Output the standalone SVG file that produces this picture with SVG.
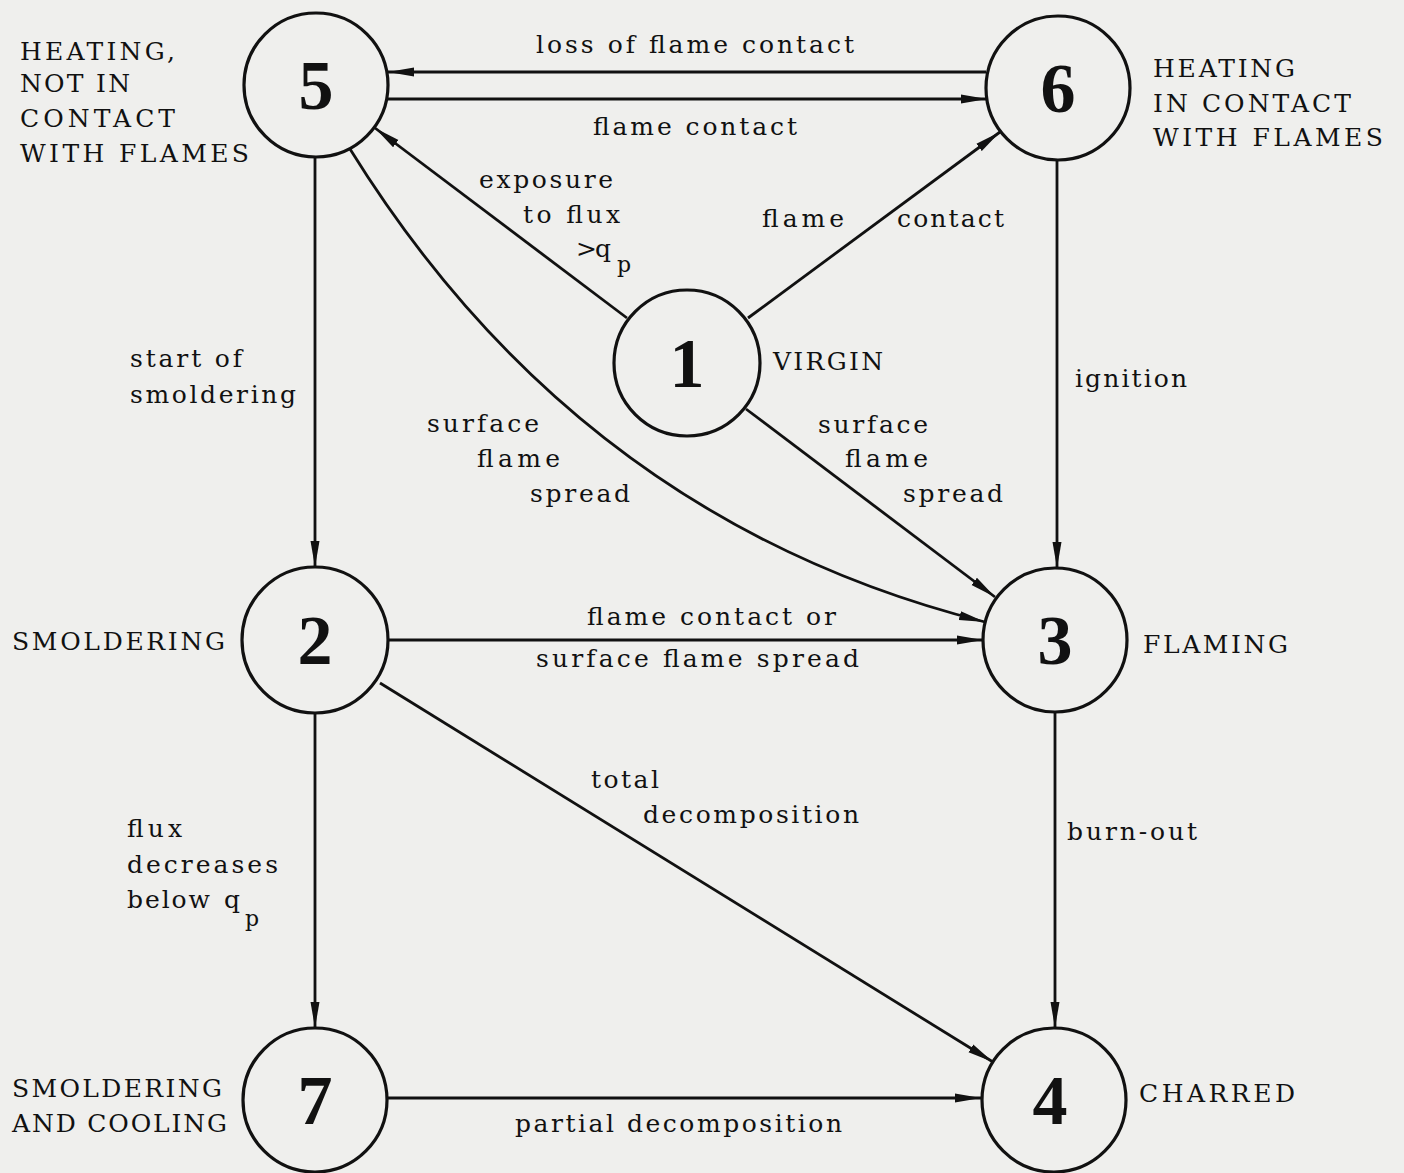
<svg xmlns="http://www.w3.org/2000/svg" width="1404" height="1173" viewBox="0 0 1404 1173">
<style>
.bg{fill:#efefed}
.node{fill:none;stroke:#111;stroke-width:3.2}
.num{font-family:"Liberation Serif","DejaVu Serif",serif;font-weight:bold;font-size:70px;fill:#111;text-anchor:middle}
.cap{font-family:"DejaVu Serif","Liberation Serif",serif;font-size:25px;fill:#111}
.lbl{font-family:"DejaVu Serif","Liberation Serif",serif;font-size:25px;fill:#111}
.sub{font-family:"DejaVu Serif","Liberation Serif",serif;font-size:22px;fill:#111}
.edge{fill:none;stroke:#111;stroke-width:2.8;marker-end:url(#ah)}
</style>
<defs>
<marker id="ah" markerUnits="userSpaceOnUse" markerWidth="28" markerHeight="10" refX="26" refY="5" orient="auto">
<path d="M0,0.5 L26,5 L0,9.5 z" fill="#111"/>
</marker>
</defs>
<rect class="bg" x="0" y="0" width="1404" height="1173"/>

<g id="connectors">
<line class="edge" x1="986" y1="72" x2="388" y2="72"/>
<line class="edge" x1="388" y1="99" x2="987" y2="99"/>
<line class="edge" x1="627" y1="318" x2="375" y2="128"/>
<line class="edge" x1="748" y1="318" x2="1000" y2="132"/>
<path class="edge" d="M350,149 Q580,520 985,622"/>
<line class="edge" x1="746" y1="409" x2="995" y2="597"/>
<line class="edge" x1="1057" y1="160" x2="1057" y2="568"/>
<line class="edge" x1="315" y1="157" x2="315" y2="567"/>
<line class="edge" x1="388" y1="640" x2="983" y2="640"/>
<line class="edge" x1="380" y1="683" x2="993" y2="1062"/>
<line class="edge" x1="1055" y1="712" x2="1055" y2="1028"/>
<line class="edge" x1="315" y1="713" x2="315" y2="1028"/>
<line class="edge" x1="387" y1="1098" x2="981" y2="1098"/>
</g>

<g id="edge-labels">
<text class="lbl" x="536" y="53" textLength="318" lengthAdjust="spacing">loss of flame contact</text>
<text class="lbl" x="593" y="135" textLength="204" lengthAdjust="spacing">flame contact</text>
<text class="lbl" x="479" y="188" textLength="134" lengthAdjust="spacing">exposure</text>
<text class="lbl" x="523" y="223" textLength="97" lengthAdjust="spacing">to flux</text>
<text class="lbl" x="576" y="257" textLength="35" lengthAdjust="spacing">&gt;q</text>
<text class="sub" x="617" y="272">p</text>
<text class="lbl" x="762" y="227" textLength="82" lengthAdjust="spacing">flame</text>
<text class="lbl" x="897" y="227" textLength="107" lengthAdjust="spacing">contact</text>
<text class="lbl" x="130" y="367" textLength="112" lengthAdjust="spacing">start of</text>
<text class="lbl" x="130" y="403" textLength="166" lengthAdjust="spacing">smoldering</text>
<text class="lbl" x="1075" y="387" textLength="112" lengthAdjust="spacing">ignition</text>
<text class="lbl" x="427" y="432" textLength="112" lengthAdjust="spacing">surface</text>
<text class="lbl" x="477" y="467" textLength="83" lengthAdjust="spacing">flame</text>
<text class="lbl" x="530" y="502" textLength="100" lengthAdjust="spacing">spread</text>
<text class="lbl" x="818" y="433" textLength="110" lengthAdjust="spacing">surface</text>
<text class="lbl" x="845" y="467" textLength="83" lengthAdjust="spacing">flame</text>
<text class="lbl" x="903" y="502" textLength="100" lengthAdjust="spacing">spread</text>
<text class="lbl" x="587" y="625" textLength="249" lengthAdjust="spacing">flame contact or</text>
<text class="lbl" x="536" y="667" textLength="323" lengthAdjust="spacing">surface flame spread</text>
<text class="lbl" x="591" y="788" textLength="68" lengthAdjust="spacing">total</text>
<text class="lbl" x="643" y="823" textLength="216" lengthAdjust="spacing">decomposition</text>
<text class="lbl" x="127" y="837" textLength="55" lengthAdjust="spacing">flux</text>
<text class="lbl" x="127" y="873" textLength="151" lengthAdjust="spacing">decreases</text>
<text class="lbl" x="127" y="908" textLength="83" lengthAdjust="spacing">below</text>
<text class="lbl" x="224" y="908">q</text>
<text class="sub" x="245" y="926">p</text>
<text class="lbl" x="1067" y="840" textLength="130" lengthAdjust="spacing">burn-out</text>
<text class="lbl" x="515" y="1132" textLength="327" lengthAdjust="spacing">partial decomposition</text>
</g>

<g id="node1">
<circle class="node" cx="687" cy="363" r="73"/>
<text class="num" x="687" y="387">1</text>
<text class="cap" x="773" y="370" textLength="110" lengthAdjust="spacing">VIRGIN</text>
</g>
<g id="node2">
<circle class="node" cx="315" cy="640" r="73"/>
<text class="num" x="315" y="664">2</text>
<text class="cap" x="12" y="650" textLength="213" lengthAdjust="spacing">SMOLDERING</text>
</g>
<g id="node3">
<circle class="node" cx="1055" cy="640" r="72"/>
<text class="num" x="1055" y="664">3</text>
<text class="cap" x="1143" y="653" textLength="145" lengthAdjust="spacing">FLAMING</text>
</g>
<g id="node4">
<circle class="node" cx="1054" cy="1100" r="72"/>
<text class="num" x="1050" y="1124">4</text>
<text class="cap" x="1139" y="1102" textLength="156" lengthAdjust="spacing">CHARRED</text>
</g>
<g id="node5">
<circle class="node" cx="316" cy="85" r="72"/>
<text class="num" x="316" y="109">5</text>
<text class="cap" x="20" y="60" textLength="155" lengthAdjust="spacing">HEATING,</text>
<text class="cap" x="20" y="92" textLength="110" lengthAdjust="spacing">NOT IN</text>
<text class="cap" x="20" y="127" textLength="155" lengthAdjust="spacing">CONTACT</text>
<text class="cap" x="20" y="162" textLength="229" lengthAdjust="spacing">WITH FLAMES</text>
</g>
<g id="node6">
<circle class="node" cx="1058" cy="88" r="72"/>
<text class="num" x="1058" y="112">6</text>
<text class="cap" x="1153" y="77" textLength="142" lengthAdjust="spacing">HEATING</text>
<text class="cap" x="1153" y="112" textLength="198" lengthAdjust="spacing">IN CONTACT</text>
<text class="cap" x="1153" y="146" textLength="230" lengthAdjust="spacing">WITH FLAMES</text>
</g>
<g id="node7">
<circle class="node" cx="315" cy="1100" r="72"/>
<text class="num" x="315" y="1124">7</text>
<text class="cap" x="12" y="1097" textLength="210" lengthAdjust="spacing">SMOLDERING</text>
<text class="cap" x="12" y="1132" textLength="215" lengthAdjust="spacing">AND COOLING</text>
</g>
</svg>
